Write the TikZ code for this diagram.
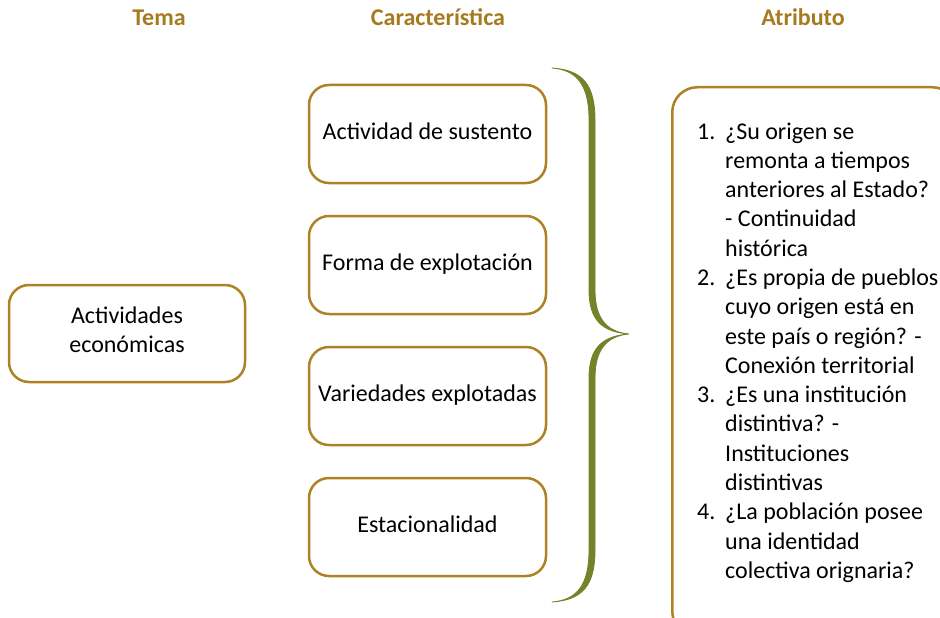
\documentclass[tikz,border=0pt]{standalone}
\usepackage{fontspec}
\setmainfont{Carlito}
\definecolor{gold}{HTML}{AD8224}
\definecolor{hdrcol}{HTML}{A67A1E}
\definecolor{olive}{HTML}{76822A}
\begin{document}
\begin{tikzpicture}[x=1pt,y=-1pt,
  every node/.style={font=\fontsize{24}{29.3}\selectfont},
  box/.style={draw=gold, line width=2.5pt, rounded corners=20pt, minimum width=237pt, minimum height=98pt, align=center, inner sep=0pt, text=black, text height=16pt, text depth=6pt},
  hdr/.style={text=hdrcol, font=\fontsize{24}{29.3}\selectfont\bfseries, anchor=base},
  bracestyle/.style={fill=olive, draw=olive, line width=0.8pt, line join=round}]
\useasboundingbox (0,0) rectangle (940,618);
\clip (0,0) rectangle (940,618);
\node[hdr] (h1) at (159,26) {Tema};
\node[hdr] (h2) at (438,26) {Característica};
\node[hdr] (h3) at (803,26) {Atributo};
\node[box, minimum width=236pt, minimum height=97pt, text height=46pt, text depth=8pt] (tema) at (127,333.5) {Actividades\\económicas};
\node[box] (c1) at (427.5,134) {Actividad de sustento};
\node[box] (c2) at (427.5,265) {Forma de explotación};
\node[box] (c3) at (427.5,396) {Variedades explotadas};
\node[box] (c4) at (427.5,527) {Estacionalidad};
\coordinate (btop) at (552,68);
\coordinate (bbot) at (552,602);
\coordinate (btip) at (629,334);
\path[bracestyle] (btop) .. controls (577,70) and (589,85) .. (589,120) -- (589,290)
  .. controls (589,320) and (602,332) .. (btip)
  .. controls (602,336) and (589,348) .. (589,378) -- (589,550)
  .. controls (589,585) and (577,600) .. (bbot)
  .. controls (583,600) and (595,585) .. (595,550) -- (595,378)
  .. controls (595,348) and (608,336) .. (btip)
  .. controls (608,332) and (595,320) .. (595,290) -- (595,120)
  .. controls (595,85) and (583,70) .. (btop) -- cycle;
\node[draw=gold, line width=2.5pt, rounded corners=25pt, minimum width=285pt, minimum height=549pt, inner sep=0pt, anchor=north west] (attr) at (671,86) {};
\node[anchor=base west, inner sep=0pt, align=left] (list) at (697,139) {%
\begin{tabular}[t]{@{}p{28pt}@{}l@{}}
1. & ¿Su origen se\\
   & remonta a tiempos\\
   & anteriores al Estado?\\
   & - Continuidad\\
   & histórica\\
2. & ¿Es propia de pueblos\\
   & cuyo origen está en\\
   & este país o región? -\\
   & Conexión territorial\\
3. & ¿Es una institución\\
   & distintiva? -\\
   & Instituciones\\
   & distintivas\\
4. & ¿La población posee\\
   & una identidad\\
   & colectiva orignaria?
\end{tabular}};
\end{tikzpicture}
\end{document}
